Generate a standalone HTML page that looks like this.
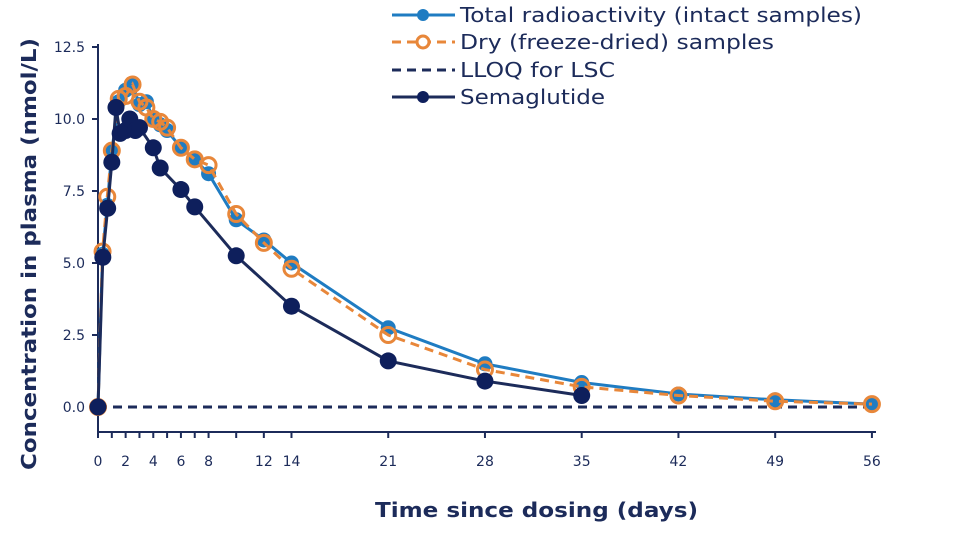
<!DOCTYPE html>
<html><head><meta charset="utf-8"><style>
body{margin:0;background:#fff}
svg{display:block;font-family:"DejaVu Sans","Liberation Sans",sans-serif}
</style></head><body>
<svg id="s" width="960" height="540" xmlns="http://www.w3.org/2000/svg">
<rect width="960" height="540" fill="#fff"/>
<g stroke="#1c2b5a" stroke-width="2" fill="none">
<line x1="98" y1="44" x2="98" y2="432"/>
<line x1="98" y1="432" x2="876" y2="432"/>
</g>
<g id="ticks"></g>
<g id="series"></g>
<text x="375" y="517" font-size="20" font-weight="bold" fill="#1c2b5a" textLength="323" lengthAdjust="spacingAndGlyphs">Time since dosing (days)</text>
<text transform="translate(36,470) rotate(-90)" font-size="20" font-weight="bold" fill="#1c2b5a" textLength="432" lengthAdjust="spacingAndGlyphs">Concentration in plasma (nmol/L)</text>
<g font-size="20" fill="#1c2b5a">
<line x1="392" y1="15" x2="455" y2="15" stroke="#1f7cc2" stroke-width="3"/><circle cx="423" cy="15" r="6" fill="#1f7cc2"/>
<text x="460" y="22" textLength="402" lengthAdjust="spacingAndGlyphs">Total radioactivity (intact samples)</text>
<line x1="392" y1="42" x2="455" y2="42" stroke="#e8873a" stroke-width="3" stroke-dasharray="9,6"/><circle cx="423" cy="42" r="6" fill="#fff" stroke="#e8873a" stroke-width="3"/>
<text x="460" y="49" textLength="314" lengthAdjust="spacingAndGlyphs">Dry (freeze-dried) samples</text>
<line x1="392" y1="70" x2="455" y2="70" stroke="#1c2b5a" stroke-width="3" stroke-dasharray="9,6"/>
<text x="460" y="77" textLength="155" lengthAdjust="spacingAndGlyphs">LLOQ for LSC</text>
<line x1="392" y1="97" x2="455" y2="97" stroke="#1c2b5a" stroke-width="3"/><circle cx="423" cy="97" r="6" fill="#0e1f5c"/>
<text x="460" y="104" textLength="145" lengthAdjust="spacingAndGlyphs">Semaglutide</text>
</g>
</svg>
<script>
const NS="http://www.w3.org/2000/svg";
const X=d=>98+d*13.82, Y=v=>407-v*28.8;
function el(p,t,a){const e=document.createElementNS(NS,t);for(const k in a)e.setAttribute(k,a[k]);p.appendChild(e);return e;}
const tk=document.getElementById('ticks');
[0,2.5,5,7.5,10,12.5].forEach(v=>{el(tk,'line',{x1:92,x2:98,y1:Y(v),y2:Y(v),stroke:'#1c2b5a','stroke-width':2});
const t=el(tk,'text',{x:85,y:Y(v)+5,'text-anchor':'end','font-size':14,fill:'#1c2b5a'});t.textContent=v.toFixed(1);});
[0,1,2,3,4,5,6,7,8,10,12,14,21,28,35,42,49,56].forEach(d=>el(tk,'line',{x1:X(d),x2:X(d),y1:432,y2:438,stroke:'#1c2b5a','stroke-width':2}));
[0,2,4,6,8,12,14,21,28,35,42,49,56].forEach(d=>{const t=el(tk,'text',{x:X(d),y:466,'text-anchor':'middle','font-size':14,fill:'#1c2b5a'});t.textContent=d;});
const g=document.getElementById('series');
el(g,'line',{x1:98,x2:872,y1:Y(0),y2:Y(0),stroke:'#1c2b5a','stroke-width':3,'stroke-dasharray':'9,6'});
const days=[0,0.33,0.67,1,1.5,2,2.5,3,3.5,4,4.5,5,6,7,8,10,12,14,21,28,35,42,49,56];
const tot=[0,5.3,7.0,8.9,10.6,11.0,11.2,10.5,10.6,10.0,9.8,9.6,9.0,8.6,8.1,6.5,5.8,5.0,2.75,1.5,0.85,0.45,0.25,0.1];
const dry=[0,5.4,7.3,8.9,10.7,10.8,11.2,10.6,10.4,10.0,9.9,9.7,9.0,8.6,8.4,6.7,5.7,4.8,2.5,1.3,0.7,0.4,0.2,0.1];
const semD=[0,0.35,0.7,1,1.3,1.6,2,2.3,2.7,3,4,4.5,6,7,10,14,21,28,35];
const sem=[0,5.2,6.9,8.5,10.4,9.5,9.6,10.0,9.6,9.7,9.0,8.3,7.55,6.95,5.25,3.5,1.6,0.9,0.4];
function pts(ds,vs){return ds.map((d,i)=>X(d)+','+Y(vs[i])).join(' ');}
el(g,'polyline',{points:pts(days,tot),fill:'none',stroke:'#1f7cc2','stroke-width':3});
days.forEach((d,i)=>el(g,'circle',{cx:X(d),cy:Y(tot[i]),r:7.5,fill:'#1f7cc2'}));
el(g,'polyline',{points:pts(days,dry),fill:'none',stroke:'#e8873a','stroke-width':3,'stroke-dasharray':'9,6'});
days.forEach((d,i)=>el(g,'circle',{cx:X(d),cy:Y(dry[i]),r:7.5,fill:'none',stroke:'#e8873a','stroke-width':3}));
el(g,'polyline',{points:pts(semD,sem),fill:'none',stroke:'#1c2b5a','stroke-width':3});
semD.forEach((d,i)=>el(g,'circle',{cx:X(d),cy:Y(sem[i]),r:8.5,fill:'#0e1f5c'}));
</script>
</body></html>
